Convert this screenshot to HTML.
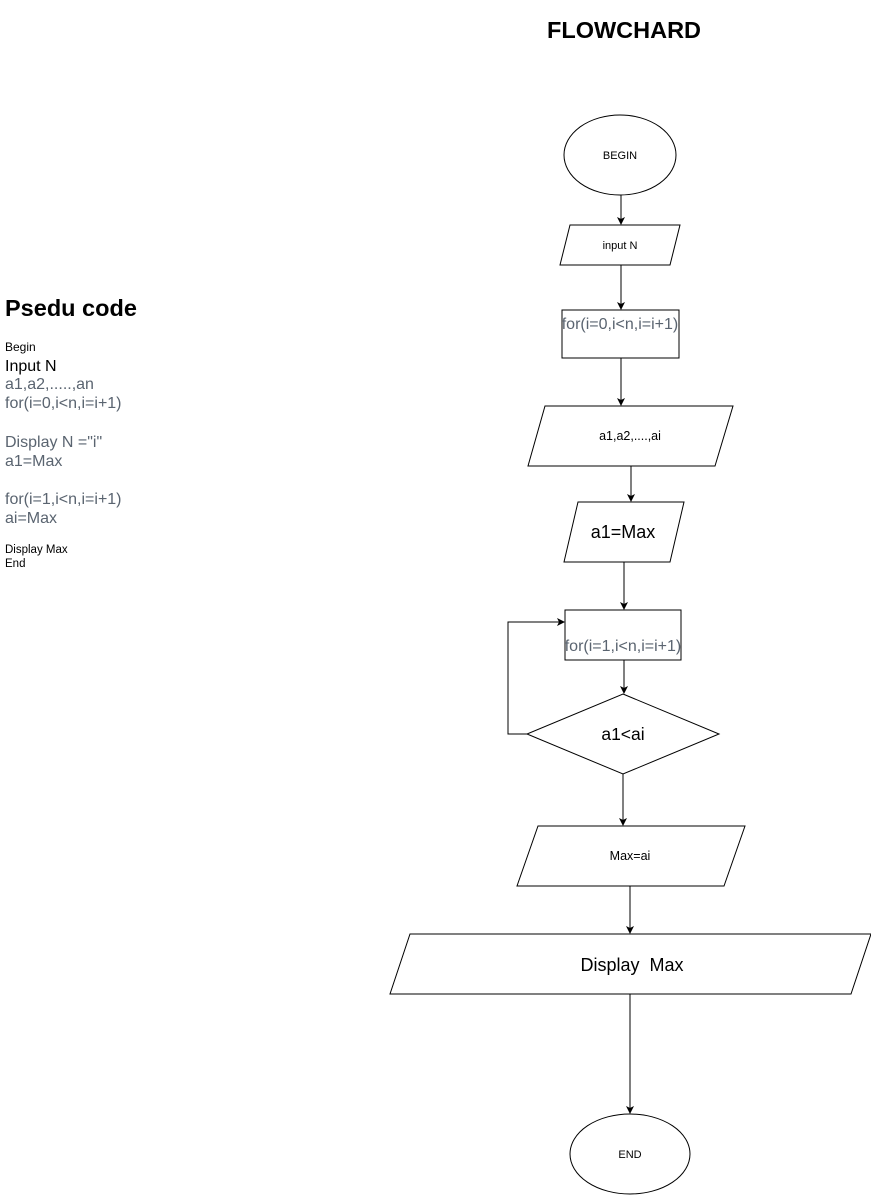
<!DOCTYPE html>
<html><head><meta charset="utf-8"><style>html,body{margin:0;padding:0;background:#fff}svg{display:block}</style></head>
<body>
<svg width="871" height="1195" viewBox="0 0 871 1195" xmlns="http://www.w3.org/2000/svg" font-family="Liberation Sans, Arial, sans-serif">
<defs><marker id="a" markerWidth="10" markerHeight="10" refX="7" refY="4" orient="auto" markerUnits="userSpaceOnUse"><path d="M0,0 L8,4 L0,8 L2,4 z" fill="#000"/></marker></defs>
<text x="624" y="38" font-size="23.5" font-weight="bold" text-anchor="middle">FLOWCHARD</text>
<text x="5" y="316" font-size="23.5" font-weight="bold">Psedu code</text>
<g font-size="16" fill="#5a6470">
<text x="5" y="351" font-size="12" fill="#000">Begin</text>
<text x="5" y="371" fill="#000">Input N</text>
<text x="5" y="389">a1,a2,.....,an</text>
<text x="5" y="408">for(i=0,i&lt;n,i=i+1)</text>
<text x="5" y="447">Display N ="i"</text>
<text x="5" y="466">a1=Max</text>
<text x="5" y="504">for(i=1,i&lt;n,i=i+1)</text>
<text x="5" y="523">ai=Max</text>
<text x="5" y="553" font-size="11.5" fill="#000">Display Max</text>
<text x="5" y="567" font-size="11.5" fill="#000">End</text>
</g>
<g fill="#fff" stroke="#000" stroke-width="1">
<ellipse cx="620" cy="155" rx="56" ry="40"/>
<polygon points="570,225 680,225 670,265 560,265"/>
<rect x="562" y="310" width="117" height="48"/>
<polygon points="545,406 733,406 715,466 528,466"/>
<polygon points="578,502 684,502 670,562 564,562"/>
<rect x="565" y="610" width="116" height="50"/>
<polygon points="623,694 719,734 623,774 527,734"/>
<polygon points="538,826 745,826 724,886 517,886"/>
<polygon points="410,934 871,934 851,994 390,994"/>
<ellipse cx="630" cy="1154" rx="60" ry="40"/>
</g>
<g stroke="#000" stroke-width="1" fill="none" marker-end="url(#a)">
<line x1="621" y1="195" x2="621" y2="224"/>
<line x1="621" y1="265" x2="621" y2="309"/>
<line x1="621" y1="358" x2="621" y2="405"/>
<line x1="631" y1="466" x2="631" y2="501"/>
<line x1="624" y1="562" x2="624" y2="609"/>
<line x1="624" y1="660" x2="624" y2="693"/>
<polyline points="527,734 508,734 508,622 564,622"/>
<line x1="623" y1="774" x2="623" y2="825"/>
<line x1="630" y1="886" x2="630" y2="933"/>
<line x1="630" y1="994" x2="630" y2="1113"/>
</g>
<g text-anchor="middle">
<text x="620" y="159" font-size="11">BEGIN</text>
<text x="620" y="249" font-size="11">input N</text>
<text x="620" y="329" font-size="16" fill="#5a6470">for(i=0,i&lt;n,i=i+1)</text>
<text x="630" y="440" font-size="12.5">a1,a2,....,ai</text>
<text x="623" y="538" font-size="18">a1=Max</text>
<text x="623" y="651" font-size="16" fill="#5a6470">for(i=1,i&lt;n,i=i+1)</text>
<text x="623" y="740" font-size="17.5">a1&lt;ai</text>
<text x="630" y="860" font-size="12.5">Max=ai</text>
<text x="632" y="971" font-size="18" xml:space="preserve">Display  Max</text>
<text x="630" y="1158" font-size="11">END</text>
</g>
</svg>
</body></html>
